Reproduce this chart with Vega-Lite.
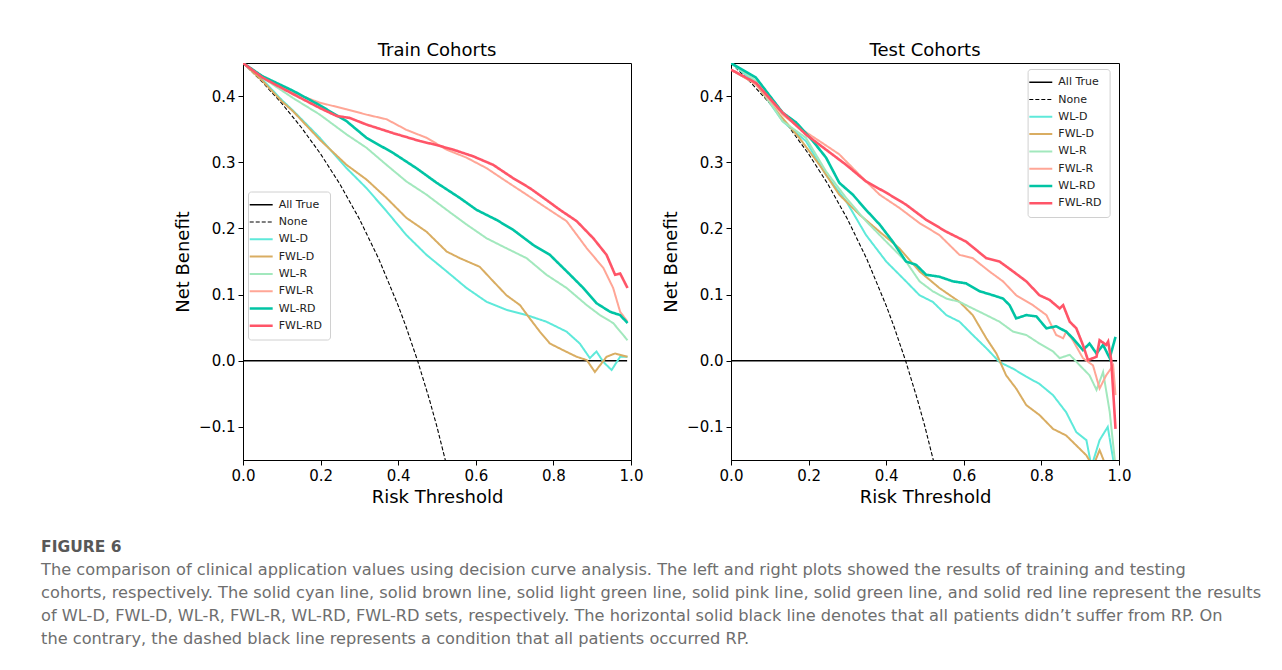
{
  "$schema": "https://vega.github.io/schema/vega-lite/v6.json",
  "background": "white",
  "autosize": {"type": "pad"},
  "padding": {"left": 41, "top": 41, "right": 5, "bottom": 5},
  "config": {
    "font": "DejaVu Sans",
    "view": {"stroke": "black", "strokeWidth": 1},
    "axis": {"grid": false, "domainColor": "black", "tickColor": "black", "labelColor": "black", "titleColor": "black", "labelFont": "DejaVu Sans", "labelFontSize": 15, "titleFont": "DejaVu Sans", "titleFontSize": 18, "titleFontWeight": "normal", "tickSize": 5, "labelPadding": 3, "domainWidth": 1, "tickWidth": 1, "labelFlush": false, "labelOverlap": false},
    "legend": {"labelFont": "DejaVu Sans", "labelFontSize": 11, "labelColor": "#222222", "fillColor": "white", "strokeColor": "#d0d0d0", "cornerRadius": 3, "padding": 7.7, "rowPadding": 5.3, "labelOffset": 12, "symbolType": "M-1.35,0H1.35", "symbolSize": 289, "symbolStrokeWidth": 2}
  },
  "datasets": {
    "train": [
      {"s":"All True","t":0,"v":0},{"s":"All True","t":0.99,"v":0},
      {"s":"None","t":0,"v":0.45},{"s":"None","t":0.05,"v":0.4211},{"s":"None","t":0.1,"v":0.3889},{"s":"None","t":0.15,"v":0.3529},{"s":"None","t":0.2,"v":0.3125},{"s":"None","t":0.25,"v":0.2667},{"s":"None","t":0.3,"v":0.2143},{"s":"None","t":0.35,"v":0.1538},{"s":"None","t":0.4,"v":0.0833},{"s":"None","t":0.42,"v":0.0517},{"s":"None","t":0.45,"v":0},{"s":"None","t":0.48,"v":-0.0577},{"s":"None","t":0.5,"v":-0.1},{"s":"None","t":0.53,"v":-0.1702},
      {"s":"WL-D","t":0,"v":0.45},{"s":"WL-D","t":0.05,"v":0.425},{"s":"WL-D","t":0.1,"v":0.394},{"s":"WL-D","t":0.129,"v":0.378},{"s":"WL-D","t":0.198,"v":0.337},{"s":"WL-D","t":0.267,"v":0.291},{"s":"WL-D","t":0.318,"v":0.261},{"s":"WL-D","t":0.37,"v":0.226},{"s":"WL-D","t":0.421,"v":0.19},{"s":"WL-D","t":0.473,"v":0.16},{"s":"WL-D","t":0.525,"v":0.135},{"s":"WL-D","t":0.576,"v":0.11},{"s":"WL-D","t":0.628,"v":0.089},{"s":"WL-D","t":0.679,"v":0.077},{"s":"WL-D","t":0.731,"v":0.069},{"s":"WL-D","t":0.782,"v":0.059},{"s":"WL-D","t":0.834,"v":0.044},{"s":"WL-D","t":0.868,"v":0.026},{"s":"WL-D","t":0.894,"v":0.004},{"s":"WL-D","t":0.911,"v":0.014},{"s":"WL-D","t":0.929,"v":-0.002},{"s":"WL-D","t":0.95,"v":-0.014},{"s":"WL-D","t":0.972,"v":0.006},{"s":"WL-D","t":0.991,"v":0.006},
      {"s":"FWL-D","t":0,"v":0.45},{"s":"FWL-D","t":0.05,"v":0.423},{"s":"FWL-D","t":0.1,"v":0.392},{"s":"FWL-D","t":0.129,"v":0.377},{"s":"FWL-D","t":0.198,"v":0.334},{"s":"FWL-D","t":0.267,"v":0.296},{"s":"FWL-D","t":0.318,"v":0.274},{"s":"FWL-D","t":0.37,"v":0.246},{"s":"FWL-D","t":0.421,"v":0.216},{"s":"FWL-D","t":0.473,"v":0.195},{"s":"FWL-D","t":0.525,"v":0.165},{"s":"FWL-D","t":0.559,"v":0.155},{"s":"FWL-D","t":0.61,"v":0.142},{"s":"FWL-D","t":0.645,"v":0.12},{"s":"FWL-D","t":0.679,"v":0.099},{"s":"FWL-D","t":0.714,"v":0.084},{"s":"FWL-D","t":0.739,"v":0.064},{"s":"FWL-D","t":0.765,"v":0.044},{"s":"FWL-D","t":0.791,"v":0.026},{"s":"FWL-D","t":0.825,"v":0.016},{"s":"FWL-D","t":0.86,"v":0.006},{"s":"FWL-D","t":0.886,"v":0.001},{"s":"FWL-D","t":0.907,"v":-0.017},{"s":"FWL-D","t":0.937,"v":0.006},{"s":"FWL-D","t":0.959,"v":0.011},{"s":"FWL-D","t":0.991,"v":0.006},
      {"s":"WL-R","t":0,"v":0.45},{"s":"WL-R","t":0.05,"v":0.428},{"s":"WL-R","t":0.129,"v":0.397},{"s":"WL-R","t":0.198,"v":0.372},{"s":"WL-R","t":0.267,"v":0.342},{"s":"WL-R","t":0.318,"v":0.322},{"s":"WL-R","t":0.37,"v":0.296},{"s":"WL-R","t":0.421,"v":0.271},{"s":"WL-R","t":0.473,"v":0.251},{"s":"WL-R","t":0.525,"v":0.228},{"s":"WL-R","t":0.576,"v":0.206},{"s":"WL-R","t":0.628,"v":0.185},{"s":"WL-R","t":0.679,"v":0.17},{"s":"WL-R","t":0.731,"v":0.155},{"s":"WL-R","t":0.782,"v":0.13},{"s":"WL-R","t":0.834,"v":0.11},{"s":"WL-R","t":0.886,"v":0.084},{"s":"WL-R","t":0.92,"v":0.069},{"s":"WL-R","t":0.954,"v":0.057},{"s":"WL-R","t":0.991,"v":0.031},
      {"s":"FWL-R","t":0,"v":0.45},{"s":"FWL-R","t":0.05,"v":0.43},{"s":"FWL-R","t":0.129,"v":0.405},{"s":"FWL-R","t":0.198,"v":0.39},{"s":"FWL-R","t":0.267,"v":0.38},{"s":"FWL-R","t":0.318,"v":0.372},{"s":"FWL-R","t":0.37,"v":0.365},{"s":"FWL-R","t":0.421,"v":0.349},{"s":"FWL-R","t":0.473,"v":0.337},{"s":"FWL-R","t":0.525,"v":0.319},{"s":"FWL-R","t":0.576,"v":0.307},{"s":"FWL-R","t":0.628,"v":0.291},{"s":"FWL-R","t":0.679,"v":0.271},{"s":"FWL-R","t":0.731,"v":0.251},{"s":"FWL-R","t":0.782,"v":0.231},{"s":"FWL-R","t":0.834,"v":0.211},{"s":"FWL-R","t":0.886,"v":0.17},{"s":"FWL-R","t":0.929,"v":0.14},{"s":"FWL-R","t":0.954,"v":0.11},{"s":"FWL-R","t":0.972,"v":0.074},{"s":"FWL-R","t":0.991,"v":0.059},
      {"s":"WL-RD","t":0,"v":0.45},{"s":"WL-RD","t":0.05,"v":0.43},{"s":"WL-RD","t":0.129,"v":0.408},{"s":"WL-RD","t":0.198,"v":0.386},{"s":"WL-RD","t":0.267,"v":0.362},{"s":"WL-RD","t":0.318,"v":0.337},{"s":"WL-RD","t":0.387,"v":0.314},{"s":"WL-RD","t":0.447,"v":0.291},{"s":"WL-RD","t":0.499,"v":0.269},{"s":"WL-RD","t":0.559,"v":0.246},{"s":"WL-RD","t":0.602,"v":0.228},{"s":"WL-RD","t":0.653,"v":0.213},{"s":"WL-RD","t":0.696,"v":0.198},{"s":"WL-RD","t":0.748,"v":0.175},{"s":"WL-RD","t":0.791,"v":0.16},{"s":"WL-RD","t":0.843,"v":0.13},{"s":"WL-RD","t":0.877,"v":0.11},{"s":"WL-RD","t":0.911,"v":0.087},{"s":"WL-RD","t":0.946,"v":0.074},{"s":"WL-RD","t":0.972,"v":0.069},{"s":"WL-RD","t":0.991,"v":0.057},
      {"s":"FWL-RD","t":0,"v":0.45},{"s":"FWL-RD","t":0.05,"v":0.428},{"s":"FWL-RD","t":0.129,"v":0.403},{"s":"FWL-RD","t":0.198,"v":0.382},{"s":"FWL-RD","t":0.241,"v":0.37},{"s":"FWL-RD","t":0.275,"v":0.367},{"s":"FWL-RD","t":0.318,"v":0.357},{"s":"FWL-RD","t":0.387,"v":0.344},{"s":"FWL-RD","t":0.456,"v":0.332},{"s":"FWL-RD","t":0.499,"v":0.326},{"s":"FWL-RD","t":0.542,"v":0.319},{"s":"FWL-RD","t":0.593,"v":0.309},{"s":"FWL-RD","t":0.645,"v":0.296},{"s":"FWL-RD","t":0.696,"v":0.276},{"s":"FWL-RD","t":0.739,"v":0.261},{"s":"FWL-RD","t":0.782,"v":0.243},{"s":"FWL-RD","t":0.817,"v":0.228},{"s":"FWL-RD","t":0.86,"v":0.211},{"s":"FWL-RD","t":0.903,"v":0.185},{"s":"FWL-RD","t":0.937,"v":0.16},{"s":"FWL-RD","t":0.959,"v":0.13},{"s":"FWL-RD","t":0.972,"v":0.132},{"s":"FWL-RD","t":0.991,"v":0.11}
    ],
    "test": [
      {"s":"All True","t":0,"v":0},{"s":"All True","t":0.995,"v":0},
      {"s":"None","t":0,"v":0.45},{"s":"None","t":0.05,"v":0.4211},{"s":"None","t":0.1,"v":0.3889},{"s":"None","t":0.15,"v":0.3529},{"s":"None","t":0.2,"v":0.3125},{"s":"None","t":0.25,"v":0.2667},{"s":"None","t":0.3,"v":0.2143},{"s":"None","t":0.35,"v":0.1538},{"s":"None","t":0.4,"v":0.0833},{"s":"None","t":0.42,"v":0.0517},{"s":"None","t":0.45,"v":0},{"s":"None","t":0.48,"v":-0.0577},{"s":"None","t":0.5,"v":-0.1},{"s":"None","t":0.53,"v":-0.1702},
      {"s":"WL-D","t":0,"v":0.45},{"s":"WL-D","t":0.064,"v":0.42},{"s":"WL-D","t":0.133,"v":0.362},{"s":"WL-D","t":0.193,"v":0.332},{"s":"WL-D","t":0.245,"v":0.281},{"s":"WL-D","t":0.297,"v":0.241},{"s":"WL-D","t":0.348,"v":0.19},{"s":"WL-D","t":0.4,"v":0.15},{"s":"WL-D","t":0.451,"v":0.12},{"s":"WL-D","t":0.486,"v":0.099},{"s":"WL-D","t":0.52,"v":0.089},{"s":"WL-D","t":0.555,"v":0.069},{"s":"WL-D","t":0.589,"v":0.059},{"s":"WL-D","t":0.623,"v":0.039},{"s":"WL-D","t":0.658,"v":0.019},{"s":"WL-D","t":0.692,"v":-0.002},{"s":"WL-D","t":0.727,"v":-0.012},{"s":"WL-D","t":0.761,"v":-0.024},{"s":"WL-D","t":0.795,"v":-0.035},{"s":"WL-D","t":0.83,"v":-0.052},{"s":"WL-D","t":0.864,"v":-0.078},{"s":"WL-D","t":0.89,"v":-0.108},{"s":"WL-D","t":0.916,"v":-0.12},{"s":"WL-D","t":0.929,"v":-0.16},{"s":"WL-D","t":0.95,"v":-0.12},{"s":"WL-D","t":0.971,"v":-0.1},{"s":"WL-D","t":0.991,"v":-0.17},
      {"s":"FWL-D","t":0,"v":0.44},{"s":"FWL-D","t":0.064,"v":0.418},{"s":"FWL-D","t":0.125,"v":0.372},{"s":"FWL-D","t":0.176,"v":0.337},{"s":"FWL-D","t":0.228,"v":0.296},{"s":"FWL-D","t":0.279,"v":0.251},{"s":"FWL-D","t":0.331,"v":0.221},{"s":"FWL-D","t":0.383,"v":0.195},{"s":"FWL-D","t":0.434,"v":0.17},{"s":"FWL-D","t":0.486,"v":0.135},{"s":"FWL-D","t":0.537,"v":0.11},{"s":"FWL-D","t":0.589,"v":0.089},{"s":"FWL-D","t":0.623,"v":0.069},{"s":"FWL-D","t":0.658,"v":0.034},{"s":"FWL-D","t":0.684,"v":0.011},{"s":"FWL-D","t":0.709,"v":-0.022},{"s":"FWL-D","t":0.735,"v":-0.042},{"s":"FWL-D","t":0.761,"v":-0.067},{"s":"FWL-D","t":0.795,"v":-0.082},{"s":"FWL-D","t":0.83,"v":-0.103},{"s":"FWL-D","t":0.864,"v":-0.113},{"s":"FWL-D","t":0.89,"v":-0.128},{"s":"FWL-D","t":0.916,"v":-0.143},{"s":"FWL-D","t":0.933,"v":-0.16},{"s":"FWL-D","t":0.95,"v":-0.135},{"s":"FWL-D","t":0.967,"v":-0.16},{"s":"FWL-D","t":0.991,"v":-0.2},
      {"s":"WL-R","t":0,"v":0.45},{"s":"WL-R","t":0.064,"v":0.423},{"s":"WL-R","t":0.133,"v":0.362},{"s":"WL-R","t":0.193,"v":0.337},{"s":"WL-R","t":0.245,"v":0.286},{"s":"WL-R","t":0.297,"v":0.246},{"s":"WL-R","t":0.348,"v":0.211},{"s":"WL-R","t":0.4,"v":0.18},{"s":"WL-R","t":0.451,"v":0.15},{"s":"WL-R","t":0.486,"v":0.12},{"s":"WL-R","t":0.52,"v":0.105},{"s":"WL-R","t":0.555,"v":0.094},{"s":"WL-R","t":0.589,"v":0.089},{"s":"WL-R","t":0.623,"v":0.079},{"s":"WL-R","t":0.658,"v":0.069},{"s":"WL-R","t":0.692,"v":0.059},{"s":"WL-R","t":0.727,"v":0.044},{"s":"WL-R","t":0.761,"v":0.039},{"s":"WL-R","t":0.795,"v":0.026},{"s":"WL-R","t":0.83,"v":0.014},{"s":"WL-R","t":0.847,"v":0.004},{"s":"WL-R","t":0.873,"v":0.009},{"s":"WL-R","t":0.899,"v":-0.007},{"s":"WL-R","t":0.924,"v":-0.022},{"s":"WL-R","t":0.942,"v":-0.044},{"s":"WL-R","t":0.959,"v":-0.017},{"s":"WL-R","t":0.976,"v":-0.077},{"s":"WL-R","t":0.991,"v":-0.16},
      {"s":"FWL-R","t":0,"v":0.44},{"s":"FWL-R","t":0.064,"v":0.418},{"s":"FWL-R","t":0.133,"v":0.372},{"s":"FWL-R","t":0.176,"v":0.352},{"s":"FWL-R","t":0.228,"v":0.332},{"s":"FWL-R","t":0.279,"v":0.312},{"s":"FWL-R","t":0.331,"v":0.281},{"s":"FWL-R","t":0.383,"v":0.251},{"s":"FWL-R","t":0.434,"v":0.231},{"s":"FWL-R","t":0.486,"v":0.208},{"s":"FWL-R","t":0.537,"v":0.19},{"s":"FWL-R","t":0.589,"v":0.16},{"s":"FWL-R","t":0.623,"v":0.155},{"s":"FWL-R","t":0.666,"v":0.135},{"s":"FWL-R","t":0.701,"v":0.12},{"s":"FWL-R","t":0.735,"v":0.099},{"s":"FWL-R","t":0.778,"v":0.084},{"s":"FWL-R","t":0.813,"v":0.069},{"s":"FWL-R","t":0.838,"v":0.039},{"s":"FWL-R","t":0.856,"v":0.034},{"s":"FWL-R","t":0.864,"v":0.044},{"s":"FWL-R","t":0.881,"v":0.031},{"s":"FWL-R","t":0.907,"v":0.004},{"s":"FWL-R","t":0.933,"v":-0.007},{"s":"FWL-R","t":0.95,"v":-0.042},{"s":"FWL-R","t":0.967,"v":-0.022},{"s":"FWL-R","t":0.985,"v":-0.007},{"s":"FWL-R","t":0.991,"v":-0.052},
      {"s":"WL-RD","t":0,"v":0.45},{"s":"WL-RD","t":0.064,"v":0.428},{"s":"WL-RD","t":0.133,"v":0.375},{"s":"WL-RD","t":0.168,"v":0.36},{"s":"WL-RD","t":0.211,"v":0.332},{"s":"WL-RD","t":0.245,"v":0.307},{"s":"WL-RD","t":0.279,"v":0.269},{"s":"WL-RD","t":0.314,"v":0.251},{"s":"WL-RD","t":0.348,"v":0.228},{"s":"WL-RD","t":0.383,"v":0.206},{"s":"WL-RD","t":0.417,"v":0.18},{"s":"WL-RD","t":0.451,"v":0.15},{"s":"WL-RD","t":0.477,"v":0.145},{"s":"WL-RD","t":0.503,"v":0.13},{"s":"WL-RD","t":0.537,"v":0.127},{"s":"WL-RD","t":0.572,"v":0.12},{"s":"WL-RD","t":0.606,"v":0.117},{"s":"WL-RD","t":0.641,"v":0.105},{"s":"WL-RD","t":0.675,"v":0.099},{"s":"WL-RD","t":0.701,"v":0.094},{"s":"WL-RD","t":0.718,"v":0.084},{"s":"WL-RD","t":0.735,"v":0.064},{"s":"WL-RD","t":0.761,"v":0.069},{"s":"WL-RD","t":0.787,"v":0.067},{"s":"WL-RD","t":0.813,"v":0.049},{"s":"WL-RD","t":0.838,"v":0.052},{"s":"WL-RD","t":0.864,"v":0.044},{"s":"WL-RD","t":0.881,"v":0.034},{"s":"WL-RD","t":0.907,"v":0.016},{"s":"WL-RD","t":0.924,"v":0.026},{"s":"WL-RD","t":0.942,"v":0.011},{"s":"WL-RD","t":0.959,"v":0.024},{"s":"WL-RD","t":0.976,"v":0.004},{"s":"WL-RD","t":0.991,"v":0.036},
      {"s":"FWL-RD","t":0,"v":0.44},{"s":"FWL-RD","t":0.064,"v":0.42},{"s":"FWL-RD","t":0.133,"v":0.375},{"s":"FWL-RD","t":0.193,"v":0.342},{"s":"FWL-RD","t":0.245,"v":0.319},{"s":"FWL-RD","t":0.297,"v":0.296},{"s":"FWL-RD","t":0.348,"v":0.271},{"s":"FWL-RD","t":0.4,"v":0.254},{"s":"FWL-RD","t":0.451,"v":0.236},{"s":"FWL-RD","t":0.503,"v":0.213},{"s":"FWL-RD","t":0.555,"v":0.195},{"s":"FWL-RD","t":0.606,"v":0.18},{"s":"FWL-RD","t":0.658,"v":0.155},{"s":"FWL-RD","t":0.692,"v":0.15},{"s":"FWL-RD","t":0.727,"v":0.135},{"s":"FWL-RD","t":0.761,"v":0.12},{"s":"FWL-RD","t":0.795,"v":0.099},{"s":"FWL-RD","t":0.821,"v":0.092},{"s":"FWL-RD","t":0.847,"v":0.079},{"s":"FWL-RD","t":0.856,"v":0.084},{"s":"FWL-RD","t":0.873,"v":0.059},{"s":"FWL-RD","t":0.89,"v":0.049},{"s":"FWL-RD","t":0.907,"v":0.024},{"s":"FWL-RD","t":0.92,"v":0.001},{"s":"FWL-RD","t":0.942,"v":0.006},{"s":"FWL-RD","t":0.95,"v":0.031},{"s":"FWL-RD","t":0.967,"v":0.024},{"s":"FWL-RD","t":0.972,"v":0.029},{"s":"FWL-RD","t":0.98,"v":0.001},{"s":"FWL-RD","t":0.991,"v":-0.103}
    ]
  },
  "title": {
    "text": "FIGURE 6",
    "subtitle": [
      "The comparison of clinical application values using decision curve analysis. The left and right plots showed the results of training and testing",
      "cohorts, respectively. The solid cyan line, solid brown line, solid light green line, solid pink line, solid green line, and solid red line represent the results",
      "of WL-D, FWL-D, WL-R, FWL-R, WL-RD, FWL-RD sets, respectively. The horizontal solid black line denotes that all patients didn’t suffer from RP. On",
      "the contrary, the dashed black line represents a condition that all patients occurred RP."
    ],
    "orient": "bottom",
    "anchor": "start",
    "frame": "bounds",
    "dx": -133,
    "offset": 33,
    "font": "DejaVu Sans",
    "fontSize": 15.5,
    "fontWeight": "bold",
    "color": "#585858",
    "subtitleFont": "DejaVu Sans",
    "subtitleFontSize": 16.2,
    "subtitleFontWeight": "normal",
    "subtitleColor": "#6e6e6e",
    "subtitleLineHeight": 23,
    "subtitlePadding": 7,
    "limit": 1300
  },
  "spacing": 100,
  "bounds": "flush",
  "resolve": {
    "scale": {"color": "independent", "strokeDash": "independent"},
    "legend": {"color": "independent", "strokeDash": "independent"}
  },
  "hconcat": [
    {
      "width": 388,
      "height": 397,
      "title": {"text": "Train Cohorts", "fontSize": 18, "fontWeight": "normal", "font": "DejaVu Sans", "color": "black", "frame": "group", "anchor": "middle", "offset": 3},
      "data": {"name": "train"},
      "mark": {"type": "line", "clip": true},
      "encoding": {
        "x": {"field": "t", "type": "quantitative", "scale": {"domain": [0, 1], "nice": false, "zero": false}, "axis": {"title": "Risk Threshold", "values": [0, 0.2, 0.4, 0.6, 0.8, 1], "format": ".1f", "titlePadding": 5}},
        "y": {"field": "v", "type": "quantitative", "scale": {"domain": [-0.15, 0.45], "nice": false, "zero": false}, "axis": {"title": "Net Benefit", "values": [-0.1, 0, 0.1, 0.2, 0.3, 0.4], "format": ".1f", "titlePadding": 6}},
        "color": {"field": "s", "type": "nominal", "scale": {"domain": ["All True", "None", "WL-D", "FWL-D", "WL-R", "FWL-R", "WL-RD", "FWL-RD"], "range": ["#000000", "#000000", "#5ee9da", "#d9ad62", "#a2e8bd", "#ffa696", "#00c4a4", "#ff5568"]}, "legend": {"title": null, "orient": "none", "legendX": 5, "legendY": 128.5, "encode": {"symbols": {"update": {"strokeWidth": {"signal": "datum.value === 'WL-RD' || datum.value === 'FWL-RD' ? 2.6 : datum.value === 'None' ? 1.1 : datum.value === 'All True' ? 1.4 : 2"}}}}}},
        "strokeDash": {"field": "s", "type": "nominal", "scale": {"domain": ["All True", "None", "WL-D", "FWL-D", "WL-R", "FWL-R", "WL-RD", "FWL-RD"], "range": [[1, 0], [4, 2], [1, 0], [1, 0], [1, 0], [1, 0], [1, 0], [1, 0]]}, "legend": {"title": null}},
        "strokeWidth": {"condition": [{"test": "datum.s === 'None'", "value": 1.1}, {"test": "datum.s === 'All True'", "value": 1.4}, {"test": "datum.s === 'WL-RD' || datum.s === 'FWL-RD'", "value": 2.6}], "value": 2}
      }
    },
    {
      "width": 388,
      "height": 397,
      "title": {"text": "Test Cohorts", "fontSize": 18, "fontWeight": "normal", "font": "DejaVu Sans", "color": "black", "frame": "group", "anchor": "middle", "offset": 3},
      "data": {"name": "test"},
      "mark": {"type": "line", "clip": true},
      "encoding": {
        "x": {"field": "t", "type": "quantitative", "scale": {"domain": [0, 1], "nice": false, "zero": false}, "axis": {"title": "Risk Threshold", "values": [0, 0.2, 0.4, 0.6, 0.8, 1], "format": ".1f", "titlePadding": 5}},
        "y": {"field": "v", "type": "quantitative", "scale": {"domain": [-0.15, 0.45], "nice": false, "zero": false}, "axis": {"title": "Net Benefit", "values": [-0.1, 0, 0.1, 0.2, 0.3, 0.4], "format": ".1f", "titlePadding": 6}},
        "color": {"field": "s", "type": "nominal", "scale": {"domain": ["All True", "None", "WL-D", "FWL-D", "WL-R", "FWL-R", "WL-RD", "FWL-RD"], "range": ["#000000", "#000000", "#5ee9da", "#d9ad62", "#a2e8bd", "#ffa696", "#00c4a4", "#ff5568"]}, "legend": {"title": null, "orient": "none", "legendX": 296.6, "legendY": 6, "encode": {"symbols": {"update": {"strokeWidth": {"signal": "datum.value === 'WL-RD' || datum.value === 'FWL-RD' ? 2.6 : datum.value === 'None' ? 1.1 : datum.value === 'All True' ? 1.4 : 2"}}}}}},
        "strokeDash": {"field": "s", "type": "nominal", "scale": {"domain": ["All True", "None", "WL-D", "FWL-D", "WL-R", "FWL-R", "WL-RD", "FWL-RD"], "range": [[1, 0], [4, 2], [1, 0], [1, 0], [1, 0], [1, 0], [1, 0], [1, 0]]}, "legend": {"title": null}},
        "strokeWidth": {"condition": [{"test": "datum.s === 'None'", "value": 1.1}, {"test": "datum.s === 'All True'", "value": 1.4}, {"test": "datum.s === 'WL-RD' || datum.s === 'FWL-RD'", "value": 2.6}], "value": 2}
      }
    }
  ]
}
